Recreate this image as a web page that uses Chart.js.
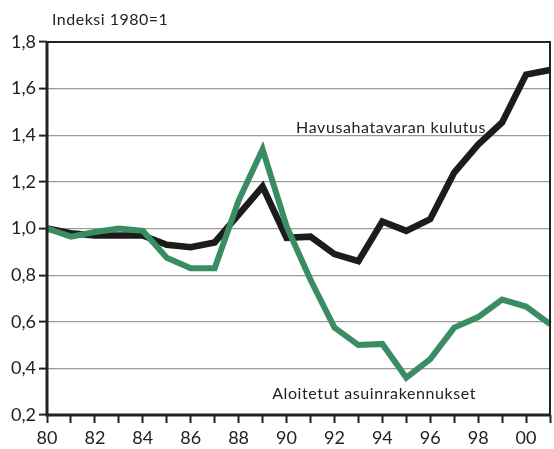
<!DOCTYPE html>
<html>
<head>
<meta charset="utf-8">
<script src="https://cdn.jsdelivr.net/npm/chart.js@4/dist/chart.umd.min.js"></script>
<style>
  html, body { margin: 0; padding: 0; background: #fff; }
  #wrap { width: 554px; height: 449px; }
</style>
</head>
<body>
<div id="wrap"><canvas id="c" width="554" height="449"></canvas></div>
<script>
// Vuodet 1980-2001
const years = ['80','81','82','83','84','85','86','87','88','89','90',
               '91','92','93','94','95','96','97','98','99','00','01'];

// Havusahatavaran kulutus, indeksi 1980=1
const kulutus = [1.00, 0.98, 0.97, 0.97, 0.97, 0.93, 0.92, 0.94, 1.06, 1.18, 0.96,
                 0.965, 0.89, 0.86, 1.03, 0.99, 1.04, 1.24, 1.36, 1.455, 1.66, 1.68];

// Aloitetut asuinrakennukset, indeksi 1980=1
const aloitetut = [1.00, 0.965, 0.985, 1.00, 0.99, 0.875, 0.83, 0.83, 1.12, 1.34, 1.01,
                   0.78, 0.575, 0.50, 0.505, 0.36, 0.44, 0.575, 0.62, 0.695, 0.665, 0.59];

const yTicks = [0.2, 0.4, 0.6, 0.8, 1.0, 1.2, 1.4, 1.6, 1.8];

const FONT = 'Lato, "Open Sans", sans-serif';
const INK = '#222';

// in-chart labels, under the lines
const labels = {
  id: 'labels',
  beforeDatasetsDraw(chart) {
    const { ctx, scales: { x, y } } = chart;
    ctx.save();
    ctx.fillStyle = INK;
    ctx.font = '16px ' + FONT;
    ctx.textBaseline = 'middle';
    ctx.textAlign = 'left';
    ctx.letterSpacing = '0.5px';
    ctx.fillText('Indeksi 1980=1', 52, 20);
    ctx.letterSpacing = '0.6px';
    ctx.fillText('Havusahatavaran kulutus', x.getPixelForValue(10.4), y.getPixelForValue(1.43));
    ctx.fillText('Aloitetut asuinrakennukset', x.getPixelForValue(9.4), y.getPixelForValue(0.29));
    ctx.restore();
  }
};

// frame round the plot area
const frame = {
  id: 'frame',
  afterDraw(chart) {
    const { ctx, chartArea: a } = chart;
    ctx.save();
    ctx.strokeStyle = '#222';
    ctx.lineWidth = 2;
    ctx.beginPath();
    ctx.moveTo(a.left, a.top);
    ctx.lineTo(a.right, a.top);
    ctx.lineTo(a.right, a.bottom);
    ctx.stroke();
    ctx.lineWidth = 3;
    ctx.beginPath();
    ctx.moveTo(a.left, a.top - 1);
    ctx.lineTo(a.left, a.bottom);
    ctx.lineTo(a.right, a.bottom);
    ctx.stroke();
    ctx.restore();
  }
};

new Chart(document.getElementById('c'), {
  type: 'line',
  data: {
    labels: years,
    datasets: [
      {
        label: 'Aloitetut asuinrakennukset',
        data: aloitetut,
        borderColor: '#3a8d62',
        borderWidth: 6,
        pointRadius: 0,
        tension: 0,
        borderJoinStyle: 'miter'
      },
      {
        label: 'Havusahatavaran kulutus',
        data: kulutus,
        borderColor: '#1c1c1c',
        borderWidth: 6.5,
        pointRadius: 0,
        tension: 0,
        borderJoinStyle: 'miter'
      }
    ]
  },
  options: {
    responsive: false,
    animation: false,
    layout: { padding: { top: 42, right: 1, left: 0, bottom: 0 } },
    plugins: { legend: { display: false }, tooltip: { enabled: false } },
    scales: {
      x: {
        type: 'category',
        offset: false,
        border: { display: false },
        grid: {
          display: true,
          drawOnChartArea: false,
          drawTicks: true,
          tickLength: 8,
          tickWidth: 2,
          tickColor: '#222'
        },
        ticks: {
          autoSkip: false,
          maxRotation: 0,
          padding: 4,
          color: INK,
          font: { family: FONT, size: 18 },
          callback: (v, i) => (i % 2 === 0 && i < years.length - 1) ? years[i] : ''
        },
        afterFit: s => { s.height = 34; }
      },
      y: {
        min: 0.2,
        max: 1.8,
        border: { display: false },
        afterBuildTicks: s => { s.ticks = yTicks.map(v => ({ value: v })); },
        grid: {
          color: ctx => (ctx.tick && (ctx.tick.value === 1.8 || ctx.tick.value === 0.2)) ? 'rgba(0,0,0,0)' : '#9a9a9a',
          lineWidth: 1.2,
          drawTicks: true,
          tickLength: 8,
          tickWidth: 2,
          tickColor: '#222'
        },
        ticks: {
          padding: 3,
          color: INK,
          font: { family: FONT, size: 18 },
          callback: v => v.toFixed(1).replace('.', ',')
        },
        afterFit: s => { s.width = 47; }
      }
    }
  },
  plugins: [labels, frame]
});
</script>
</body>
</html>
